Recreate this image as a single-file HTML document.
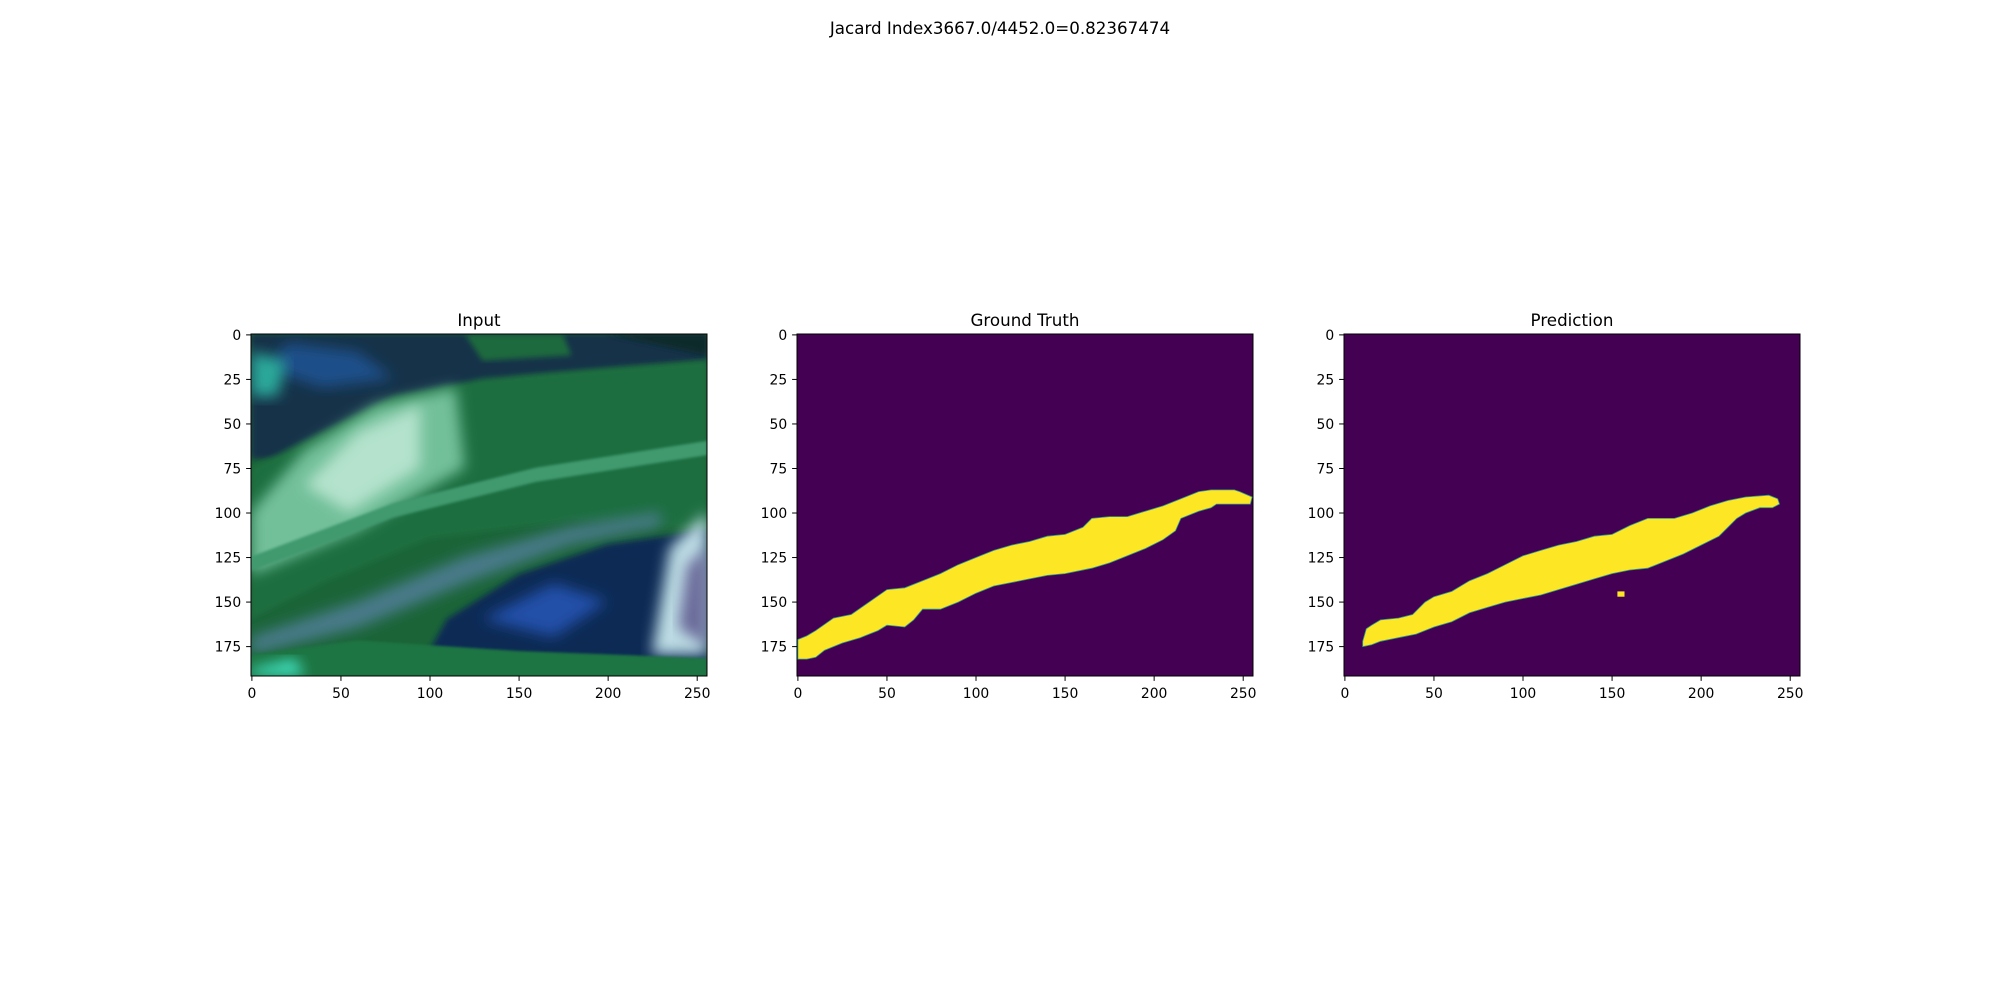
<!DOCTYPE html>
<html><head><meta charset="utf-8"><style>
html,body{margin:0;padding:0;background:#fff}
svg text{font-family:"DejaVu Sans","Liberation Sans",sans-serif;fill:#000}
</style></head><body>
<svg id="fig" width="2000" height="1000" viewBox="0 0 2000 1000" xmlns="http://www.w3.org/2000/svg">
<defs>
<filter id="blur" x="-10%" y="-10%" width="120%" height="120%"><feGaussianBlur stdDeviation="3"/></filter>
<filter id="blur3" x="-20%" y="-20%" width="140%" height="140%"><feGaussianBlur stdDeviation="7"/></filter>
<filter id="blur2"><feGaussianBlur stdDeviation="1.2"/></filter>
<clipPath id="clip1"><rect x="251" y="334" width="456" height="342"/></clipPath>
</defs>
<rect width="2000" height="1000" fill="#fff"/>
<text x="1000" y="34" font-size="16.7" text-anchor="middle">Jacard Index3667.0/4452.0=0.82367474</text>
<g id="axes"></g>
</svg>
<script>
const xTicks=[0,50,100,150,200,250];
const yTicks=[0,25,50,75,100,125,150,175];
const panelTitles=["Input","Ground Truth","Prediction"];
const gtMask=[[0,171],[5,169],[10,166],[20,159],[30,157],[40,150],[50,143],[60,142],[70,138],[80,134],[90,129],[100,125],[110,121],[120,118],[130,116],[140,113],[150,112],[160,108],[165,103],[175,102],[185,102],[195,99],[205,96],[215,92],[225,88],[232,87],[245,87],[248,88],[255,91],[254,95],[245,95],[235,95],[232,97],[225,99],[215,103],[212,110],[205,115],[195,120],[185,124],[175,128],[165,131],[150,134],[140,135],[130,137],[120,139],[110,141],[100,145],[90,150],[80,154],[70,154],[65,160],[60,164],[50,163],[45,166],[35,170],[25,173],[15,177],[10,181],[5,182],[0,182]];
const predMask=[[10,172],[12,165],[15,163],[20,160],[30,159],[38,157],[45,150],[50,147],[60,144],[70,138],[80,134],[90,129],[100,124],[110,121],[120,118],[130,116],[140,113],[150,112],[160,107],[170,103],[185,103],[195,100],[205,96],[215,93],[225,91],[238,90],[243,92],[244,95],[240,97],[233,97],[225,100],[220,103],[215,108],[210,113],[200,118],[190,123],[180,127],[170,131],[160,132],[150,134],[140,137],[130,140],[120,143],[110,146],[100,148],[90,150],[80,153],[70,156],[60,161],[50,164],[40,168],[30,170],[20,172],[15,174],[10,175]];
const predBlob=[[153,144],[157,144],[157,147],[153,147]];

const NS="http://www.w3.org/2000/svg";
const g=document.getElementById('axes');
const lefts=[251,797,1344], top0=334, W=456, H=342;
function mk(tag,attrs,parent){const e=document.createElementNS(NS,tag);for(const k in attrs)e.setAttribute(k,attrs[k]);(parent||g).appendChild(e);return e;}
function makeX(L){return v=>L+(v+0.5)*W/256;}
function makeY(){return v=>top0+(v+0.5)*H/192;}
function ptsStr(arr,sx,sy){return arr.map(p=>sx(p[0]).toFixed(1)+','+sy(p[1]).toFixed(1)).join(' ');}

function drawInput(L){
  const grp=mk('g',{'clip-path':'url(#clip1)'});
  
  
  const px=x=>L+x*W/256, py=y=>top0+y*H/192;
  const poly=(pts,fill,filt,op)=>{const e=mk('polygon',{points:pts.map(p=>px(p[0])+','+py(p[1])).join(' '),fill:fill},grp);if(filt)e.setAttribute('filter',filt);if(op)e.setAttribute('opacity',op);return e;};
  mk('rect',{x:L,y:top0,width:W,height:H,fill:'#1b6438'},grp);
  poly([[0,0],[256,0],[256,15],[200,20],[150,25],[100,35],[60,55],[30,70],[0,70]],'#12304a','url(#blur)');
  poly([[20,5],[60,10],[80,25],[40,30],[10,20]],'#1f4f8a','url(#blur3)');
  poly([[0,10],[20,15],[15,35],[0,35]],'#2aa89a','url(#blur3)');
  poly([[120,0],[175,0],[180,12],[130,15]],'#1d6a3c','url(#blur)');
  poly([[200,0],[256,0],[256,12]],'#0c2a2a','url(#blur)');
  poly([[0,75],[40,55],[80,35],[130,25],[190,20],[256,15],[256,110],[180,105],[100,115],[40,140],[0,160]],'#1f6e3f','url(#blur)');
  poly([[0,100],[30,65],[70,40],[115,30],[120,75],[60,110],[0,135]],'#72c09a','url(#blur3)');
  poly([[30,85],[60,55],[95,40],[95,75],[55,100]],'#b4e2cc','url(#blur3)');
  poly([[0,125],[80,95],[160,75],[256,60],[256,68],[160,83],[80,103],[0,133]],'#3f9a6e','url(#blur2)');
  poly([[0,170],[60,150],[120,125],[180,108],[230,100],[230,108],[180,118],[120,140],[60,165],[0,180]],'#4a7a8a','url(#blur3)');
  poly([[110,160],[150,135],[200,118],[256,110],[256,185],[150,180],[100,178]],'#102a55','url(#blur)');
  poly([[130,160],[170,140],[200,150],[170,170]],'#2050a8','url(#blur3)');
  poly([[235,120],[256,100],[256,180],[225,180]],'#bcdbe4','url(#blur3)');
  poly([[245,130],[256,120],[256,175],[240,165]],'#6b6a9a','url(#blur3)');
  poly([[0,192],[0,180],[60,172],[150,178],[256,182],[256,192]],'#1f7443','url(#blur2)');
  poly([[0,188],[25,182],[30,192],[0,192]],'#3fe0c0','url(#blur3)');
}

function drawMask(L,mask,name,extra){
  const sx=makeX(L), sy=makeY();
  const bg=mk('rect',{x:L,y:top0,width:W,height:H,fill:'#440154'});
  
  
  const p=mk('polygon',{points:ptsStr(mask,sx,sy),fill:'#fde725',stroke:'#2a9d8f','stroke-width':0.8});
  
  
  if(extra){
    const b=mk('polygon',{points:ptsStr(extra,sx,sy),fill:'#fde725'});
    
    
  }
}

drawInput(lefts[0]);
drawMask(lefts[1],gtMask,'ground-truth');
drawMask(lefts[2],predMask,'prediction',predBlob);

lefts.forEach((L,i)=>{
  const sx=makeX(L), sy=makeY();
  const fr=mk('rect',{x:L,y:top0,width:W,height:H,fill:'none',stroke:'#000','stroke-width':1});
  
  
  const t=mk('text',{x:L+W/2,y:top0-8,'font-size':16.7,'text-anchor':'middle'});
  t.textContent=panelTitles[i];
  
  
  xTicks.forEach(v=>{
    const x=sx(v);
    mk('line',{x1:x,x2:x,y1:top0+H,y2:top0+H+4.9,stroke:'#000','stroke-width':1});
    const tl=mk('text',{x:x,y:top0+H+4.9+4.9+12,'font-size':13.9,'text-anchor':'middle'});
    tl.textContent=v;
    
    
  });
  yTicks.forEach(v=>{
    const y=sy(v);
    mk('line',{x1:L-4.9,x2:L,y1:y,y2:y,stroke:'#000','stroke-width':1});
    const tl=mk('text',{x:L-4.9-4.9,y:y+5,'font-size':13.9,'text-anchor':'end'});
    tl.textContent=v;
    
    
  });
});
</script>
</body></html>
